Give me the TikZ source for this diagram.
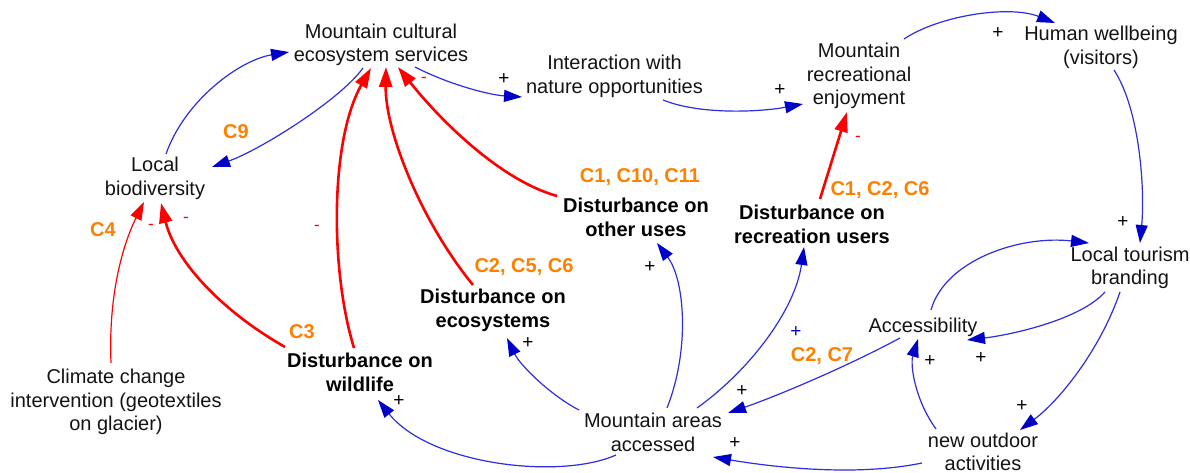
\documentclass[tikz,border=0pt]{standalone}
\usepackage{fontspec}
\setmainfont{Liberation Sans}
\usetikzlibrary{arrows.meta,calc}
\definecolor{lineblue}{RGB}{45,45,225}
\definecolor{headblue}{RGB}{0,0,200}
\definecolor{corange}{RGB}{255,128,0}
\definecolor{txtgray}{RGB}{20,20,20}
\tikzset{
  txt/.style={font=\fontsize{20}{23.5}\selectfont, align=center, inner sep=0pt, text=txtgray},
  boldtxt/.style={font=\fontsize{20}{24}\selectfont\bfseries, align=center, inner sep=0pt, text=black},
  clab/.style={font=\fontsize{20}{24}\selectfont\bfseries, inner sep=0pt, text=corange},
  plus/.style={font=\fontsize{19}{19}\selectfont, inner sep=0pt, text=black},
  bplus/.style={font=\fontsize{19}{19}\selectfont, inner sep=0pt, text=headblue},
  minus/.style={font=\fontsize{17}{17}\selectfont, inner sep=0pt, text=red},
  blink/.style={draw=lineblue, line width=1.2pt, -{Triangle[length=18pt,width=12pt,color=headblue]}},
  rlink/.style={draw=red, line width=2.6pt, -{Triangle[length=20pt,width=13pt,color=red]}},
  rthin/.style={draw=red, line width=1.2pt, -{Triangle[length=18pt,width=12pt,color=red]}}
}
\begin{document}
\begin{tikzpicture}[x=1pt,y=-1pt]
\useasboundingbox[fill=white] (0,0) rectangle (1190,473);

% main nodes
\node[txt] (mces) at (381,45) {Mountain cultural\\ecosystem services};
\node[txt] (inter) at (614.5,76.5) {Interaction with\\nature opportunities};
\node[txt] (mre) at (859,76) {Mountain\\recreational\\enjoyment};
\node[txt] (hw) at (1101,47.5) {Human wellbeing\\(visitors)};
\node[txt] (lb) at (155,178.5) {Local\\biodiversity};
\node[txt] (climate) at (116,402) {Climate change\\intervention (geotextiles\\on glacier)};
\node[boldtxt] (dw) at (360,372.5) {Disturbance on\\wildlife};
\node[boldtxt] (de) at (493,310) {Disturbance on\\ecosystems};
\node[boldtxt] (dou) at (636,217.5) {Disturbance on\\other uses};
\node[boldtxt] (dru) at (812,224.5) {Disturbance on\\recreation users};
\node[txt] (ltb) at (1130,268) {Local tourism\\branding};
\node[txt] (acc) at (923,327) {Accessibility};
\node[txt] (mac) at (653,432.5) {Mountain areas\\accessed};
\node[txt] (noa) at (983,452) {new outdoor\\activities};

% case labels
\node[clab] (c9) at (236,132) {C9};
\node[clab] (c4) at (103,230) {C4};
\node[clab] (c3) at (302,332) {C3};
\node[clab] (c256) at (524,267) {C2, C5, C6};
\node[clab] (c11011) at (640,177) {C1, C10, C11};
\node[clab] (c126) at (880,190) {C1, C2, C6};
\node[clab] (c27) at (822,356) {C2, C7};

% polarity signs
\node[plus] (p1) at (504,79) {+};
\node[plus] (p2) at (780,90) {+};
\node[plus] (p3) at (998,33) {+};
\node[plus] (p4) at (1123,222) {+};
\node[plus] (p5) at (650,267) {+};
\node[plus] (p6) at (528,343) {+};
\node[plus] (p7) at (399,401) {+};
\node[plus] (p8) at (742,391) {+};
\node[plus] (p9) at (735,443) {+};
\node[plus] (p10) at (930,361) {+};
\node[plus] (p11) at (981,358) {+};
\node[plus] (p12) at (1022,406) {+};
\node[bplus] (p13) at (796,332) {+};
\node[minus] (m1) at (424,80) {-};
\node[minus] (m2) at (317,228) {-};
\node[minus] (m3) at (151,227) {-};
\node[minus] (m4) at (186,220) {-};
\node[minus] (m5) at (858,139) {-};

% blue links
\draw[blink] ($(lb)+(11,-24.5)$) .. controls (185,100) and (240,60) .. ($(mces)+(-92,7)$);
\draw[blink] ($(mces)+(-18,23)$) .. controls (340,100) and (260,150) .. ($(lb)+(57,-11.5)$);
\draw[blink] ($(mces)+(34,22)$) .. controls (450,85) and (490,95) .. ($(inter)+(-92.5,20.5)$);
\draw[blink] ($(inter)+(48.5,23.5)$) .. controls (700,115) and (760,112) .. ($(mre)+(-56,28)$);
\draw[blink] ($(mre)+(45,-37)$) .. controls (940,15) and (1010,5) .. ($(hw)+(-46,-24.5)$);
\draw[blink] ($(hw)+(13,22.5)$) .. controls (1140,110) and (1145,190) .. ($(ltb)+(10,-25)$);
\draw[blink] ($(ltb)+(-25,24)$) .. controls (1080,320) and (1010,335) .. ($(acc)+(44,13)$);
\draw[blink] ($(ltb)+(-10,24)$) .. controls (1100,350) and (1060,400) .. ($(noa)+(37,-22)$);
\draw[blink] ($(acc)+(8,-17)$) .. controls (945,260) and (1020,235) .. ($(ltb)+(-41,-25)$);
\draw[blink] ($(noa)+(-47,-23)$) .. controls (915,400) and (910,365) .. ($(acc)+(-5,12)$);
\draw[blink] ($(acc)+(-23,11)$) .. controls (850,365) and (780,395) .. ($(mac)+(75,-19.5)$);
\draw[blink] ($(noa)+(-61,11)$) .. controls (850,478) and (760,465) .. ($(mac)+(60,24.5)$);
\draw[blink] ($(mac)+(-37,22.5)$) .. controls (560,480) and (430,465) .. ($(dw)+(18,27.5)$);
\draw[blink] ($(mac)+(-74,-22.5)$) .. controls (550,395) and (520,365) .. ($(de)+(14,28)$);
\draw[blink] ($(mac)+(14,-24.5)$) .. controls (690,350) and (685,280) .. ($(dou)+(21,25.5)$);
\draw[blink] ($(mac)+(44,-24.5)$) .. controls (750,370) and (795,310) .. ($(dru)+(-8,22.5)$);

% red links
\draw[rlink] ($(dw)+(-6,-24.5)$) .. controls (330,270) and (330,140) .. ($(mces)+(-10,23)$);
\draw[rlink] ($(de)+(-20,-25)$) .. controls (420,220) and (385,130) .. ($(mces)+(5,22)$);
\draw[rlink] ($(dou)+(-79,-21.5)$) .. controls (500,180) and (440,120) .. ($(mces)+(17,22)$);
\draw[rlink] ($(dw)+(-75,-25.5)$) .. controls (220,310) and (175,260) .. ($(lb)+(6,24.5)$);
\draw[rthin] ($(climate)+(-5,-39)$) .. controls (108,290) and (125,240) .. ($(lb)+(-11,23.5)$);
\draw[rlink] ($(dru)+(8,-25.5)$) -- ($(mre)+(-12,36)$);
\end{tikzpicture}
\end{document}
